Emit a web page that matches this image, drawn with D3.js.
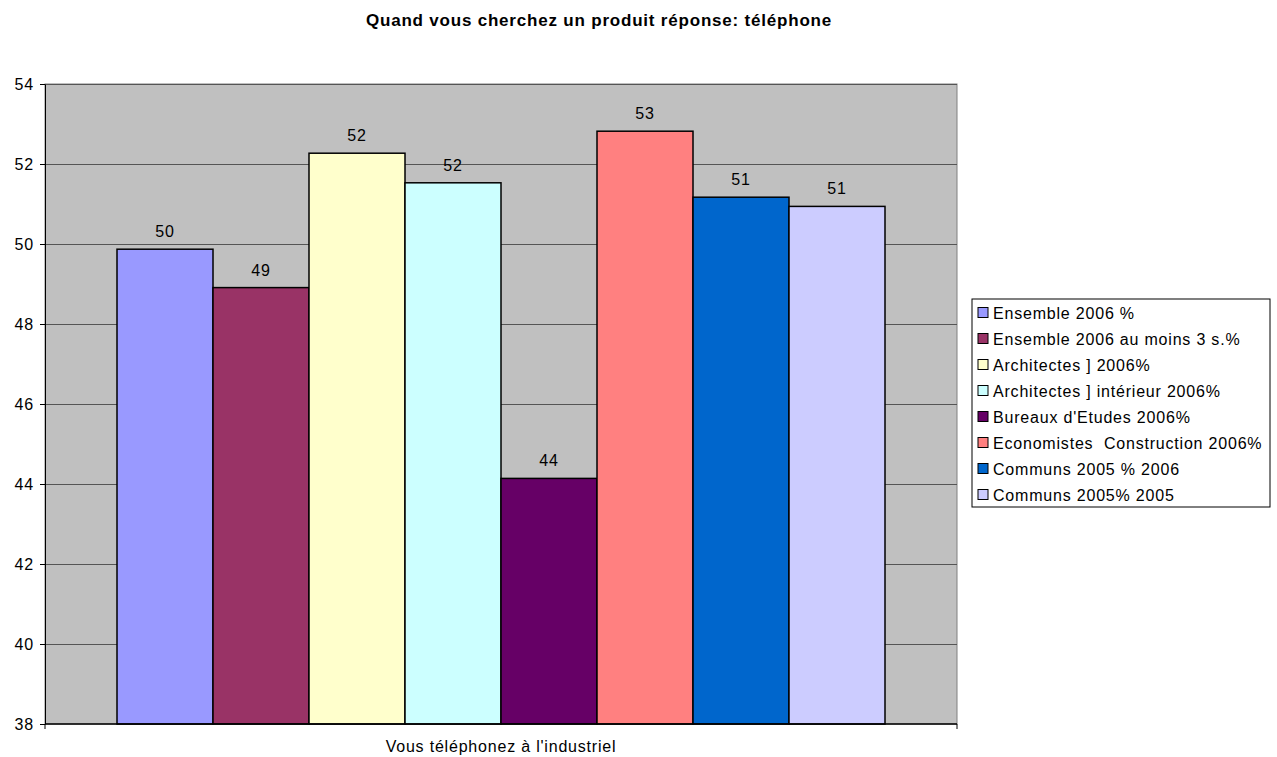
<!DOCTYPE html>
<html>
<head>
<meta charset="utf-8">
<script src="https://cdn.jsdelivr.net/npm/d3@7"></script>
<style>
  body { margin: 0; background: #fff; }
  svg text { font-family: "Liberation Sans", Arial, sans-serif; fill: #000; letter-spacing: 0.8px; white-space: pre; }
</style>
</head>
<body>
<svg id="chart" width="1277" height="757"></svg>
<script>
// chart data
const title = 'Quand vous cherchez un produit réponse: téléphone';
const category = 'Vous téléphonez à l\'industriel';
const seriesNames = [
  'Ensemble 2006 %',
  'Ensemble 2006 au moins 3 s.%',
  'Architectes ] 2006%',
  'Architectes ] intérieur 2006%',
  'Bureaux d\'Etudes 2006%',
  'Economistes  Construction 2006%',
  'Communs 2005 % 2006',
  'Communs 2005% 2005'
];
const seriesValues = [49.87, 48.91, 52.27, 51.53, 44.14, 52.82, 51.17, 50.94];
const seriesColors = ['#9999FF', '#993366', '#FFFFCC', '#CCFFFF', '#660066', '#FF8080', '#0066CC', '#CCCCFF'];
const yTicks = [38, 40, 42, 44, 46, 48, 50, 52, 54];

const margin = { left: 45, top: 84, right: 320, bottom: 33 };
const width = 1277, height = 757;
const innerW = width - margin.left - margin.right;
const innerH = height - margin.top - margin.bottom;

const svg = d3.select('#chart');
const g = svg.append('g').attr('transform', `translate(${margin.left},${margin.top})`);

const yScale = d3.scaleLinear().domain([38, 54]).range([innerH, 0]);
// one category; bars fill the band with 150% gap split on both sides
const x0 = d3.scaleBand().domain([category]).range([0, innerW]).paddingInner(0).paddingOuter(0);
const barW = innerW / (seriesNames.length + 1.5);
const x1 = d3.scaleBand().domain(seriesNames)
  .range([barW * 0.75, barW * 0.75 + barW * seriesNames.length]);

// plot background
g.append('rect')
  .attr('width', innerW).attr('height', innerH)
  .attr('fill', '#C0C0C0')
  .attr('stroke', '#808080').attr('stroke-width', 1);

// gridlines
g.selectAll('.grid').data(yTicks.slice(1)).enter().append('line')
  .attr('class', 'grid')
  .attr('x1', 0).attr('x2', innerW)
  .attr('y1', d => Math.round(yScale(d)) + 0.5).attr('y2', d => Math.round(yScale(d)) + 0.5)
  .attr('stroke', '#555').attr('stroke-width', 1);

// bars
g.selectAll('.bar').data(seriesNames).enter().append('rect')
  .attr('class', 'bar')
  .attr('x', d => x0(category) + x1(d))
  .attr('y', (d, i) => yScale(seriesValues[i]))
  .attr('width', x1.bandwidth())
  .attr('height', (d, i) => innerH - yScale(seriesValues[i]))
  .attr('fill', (d, i) => seriesColors[i])
  .attr('stroke', '#000').attr('stroke-width', 1.5);

// value labels
g.selectAll('.val').data(seriesNames).enter().append('text')
  .attr('class', 'val')
  .attr('x', d => x0(category) + x1(d) + x1.bandwidth() / 2)
  .attr('y', (d, i) => yScale(seriesValues[i]) - 12)
  .attr('text-anchor', 'middle')
  .style('font-size', '16px')
  .text((d, i) => Math.round(seriesValues[i]));

// y axis
const yAxis = d3.axisLeft(yScale).tickValues(yTicks).tickSize(5).tickSizeOuter(0).tickPadding(6);
const ya = g.append('g').call(yAxis);
ya.select('.domain').attr('stroke', '#000');
ya.selectAll('.tick line').attr('stroke', '#000');
ya.selectAll('text').style('font-size', '16px').style('font-family', '"Liberation Sans", Arial, sans-serif');

// x axis
const xa = g.append('g').attr('transform', `translate(0,${innerH})`);
xa.append('line').attr('x1', 0).attr('x2', innerW).attr('stroke', '#000').attr('stroke-width', 1.5);
xa.selectAll('.xt').data([0, innerW]).enter().append('line')
  .attr('x1', d => d).attr('x2', d => d).attr('y1', 0).attr('y2', 5)
  .attr('stroke', '#000');
xa.append('text')
  .attr('x', x0(category) + x0.bandwidth() / 2).attr('y', 28)
  .attr('text-anchor', 'middle')
  .style('font-size', '16px')
  .text(category);

// title
svg.append('text')
  .attr('x', 599).attr('y', 26)
  .attr('text-anchor', 'middle')
  .style('font-size', '17px').style('font-weight', 'bold')
  .text(title);

// legend
const legend = svg.append('g').attr('transform', 'translate(972,299)');
legend.append('rect')
  .attr('width', 298).attr('height', 208)
  .attr('fill', '#fff').attr('stroke', '#000').attr('stroke-width', 1);
const items = legend.selectAll('.item').data(seriesNames).enter().append('g')
  .attr('class', 'item')
  .attr('transform', (d, i) => `translate(6,${14 + i * 26})`);
items.append('rect')
  .attr('x', 0).attr('y', -5.5).attr('width', 10).attr('height', 10)
  .attr('fill', (d, i) => seriesColors[i])
  .attr('stroke', '#000').attr('stroke-width', 1);
items.append('text')
  .attr('x', 15).attr('y', 6)
  .style('font-size', '16px')
  .text(d => d);
</script>
</body>
</html>
